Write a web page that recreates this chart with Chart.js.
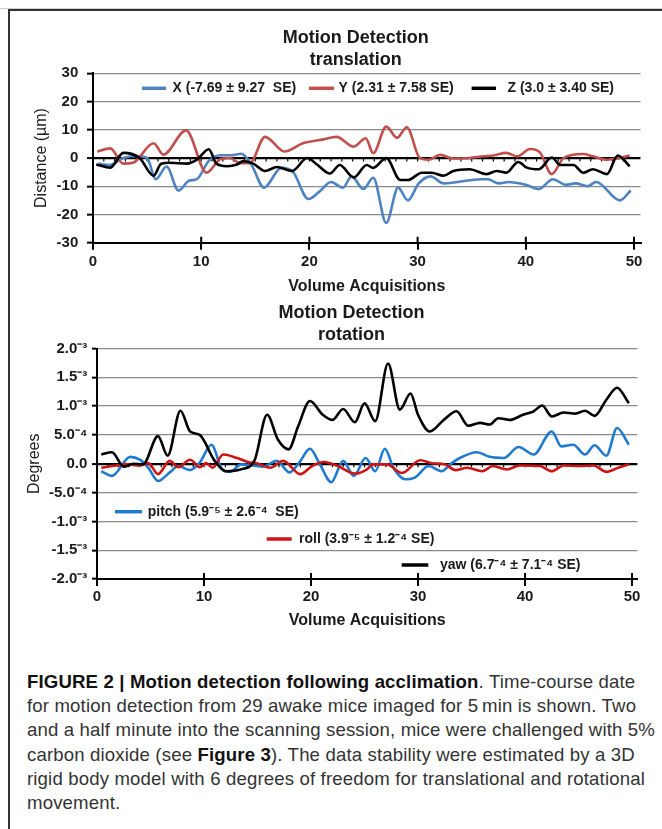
<!DOCTYPE html>
<html>
<head>
<meta charset="utf-8">
<script src="https://cdn.jsdelivr.net/npm/chart.js@4.4.1/dist/chart.umd.min.js"></script>
<style>
html,body{margin:0;padding:0;background:#fff;}
body{width:662px;height:829px;position:relative;overflow:hidden;font-family:"Liberation Sans",Arial,sans-serif;}
#topline{position:absolute;left:0;top:8px;width:662px;height:1px;background:#cfcfcf;}
#frame{position:absolute;left:8px;top:9px;width:660px;height:830px;border-top:2px solid #333;border-left:2px solid #333;}
#w1{position:absolute;left:10px;top:14px;width:652px;height:286px;}
#w2{position:absolute;left:10px;top:300px;width:652px;height:334px;}
#caption{position:absolute;left:27px;top:670px;font-size:18.6px;letter-spacing:0.15px;line-height:24.2px;color:#333;white-space:nowrap;}
#caption b{color:#111;}
</style>
</head>
<body>
<div id="topline"></div>
<div id="frame"></div>
<div id="w1"><canvas id="c1" width="652" height="286"></canvas></div>
<div id="w2"><canvas id="c2" width="652" height="334"></canvas></div>
<div id="caption"><b>FIGURE 2 | Motion detection following acclimation</b>. Time-course date<br>for motion detection from 29 awake mice imaged for 5&#8201;min is shown. Two<br>and a half minute into the scanning session, mice were challenged with 5%<br>carbon dioxide (see <b>Figure 3</b>). The data stability were estimated by a 3D<br>rigid body model with 6 degrees of freedom for translational and rotational<br>movement.</div>
<script>
// ---------- translation panel (µm) ----------
const xAcqX = [0.5,1.5,2.8,4,5,5.8,6.8,7.9,8.9,9.6,10.7,11.8,12.8,13.7,14.6,15.8,17.4,18.5,19.9,20.9,22,23.1,23.9,25,25.9,27.1,28.2,29.1,30.1,31.2,32.4,33.7,35.8,36.5,37.5,38.4,40,41.2,42.5,43.7,44.6,45.7,46.5,48.7,49.7];
const transX = [-2,-2.5,0,0.7,0,-7.5,-3,-11.5,-8,-7.5,-1,1,1,1.5,-2,-10.5,-3.5,-5,-14.5,-12,-8.5,-10.5,-6.5,-11,-7,-23,-10.5,-15,-9,-6.5,-9,-8.5,-7.5,-7.5,-9,-8.5,-9.5,-11,-7.5,-9.5,-9,-10,-8.5,-15,-11.5];
const xAcqY = [0.4,1.6,2.8,3.7,5.6,6.5,8.6,10.5,11.7,12.6,13.6,14.5,15.9,17.7,19.4,21.3,22.5,24.1,25.2,25.9,27.1,28.1,29,30.2,31,32.1,33.3,34.8,36.1,37,38.2,39.2,40.4,41.3,42.4,43.5,45.3,46.2,47.5,48.7,49.6];
const transY = [2.3,3.4,-2,-1.7,5.2,1.2,9.8,-5.2,-0.6,0,-1.8,-1.8,7.5,2.3,5.2,6.6,7.5,4,7,1.7,11.1,7.2,10.9,0,-0.6,1.1,-0.2,0,0.6,0.9,1.8,0.6,3.2,2,-5.7,0,1.4,0.6,-0.6,0,0.9];
const xAcqZ = [0.3,1.6,2.8,4.3,5.6,6.3,7.1,8.7,9.6,10.7,11.4,12.4,13.3,13.9,14.8,15.9,17,18.4,19.8,20.7,21.9,22.8,24.1,25.3,25.9,27.1,28.4,29.1,30.4,31.3,32.4,33.3,34.8,36.4,37.3,38.2,39.3,40.1,41.2,42.4,43.2,44.4,45.3,46.2,47.5,48.5,49.6];
const transZ = [-2.3,-3.4,1.8,0,-6.3,-2,-1.7,-2,-0.6,3.1,-2,-2.9,-2.3,-1.1,-2,-4.6,-3.2,-4.6,0,-2.3,-5.5,-2.5,-6.9,-2.5,-3.5,0,-7.8,-7.8,-5.2,-5.2,-6.3,-4.6,-4,-5.7,-4.6,-5.2,-1.4,-3.4,-4,0.2,-2.5,-2.5,-5.2,-4,-5.7,0.9,-2.9];
const transLabels = ['X (-7.69 \u00b1 9.27  SE)','Y (2.31 \u00b1 7.58 SE)','Z (3.0 \u00b1 3.40 SE)'];
const transYTicks = [-30,-20,-10,0,10,20,30];

// ---------- rotation panel (values in units of 10^-4 degrees) ----------
const xAcqPitch = [0.4,1.4,3.1,4,4.8,5.7,6.8,7.6,8.7,9.6,10.7,11.7,12.4,13.5,14.6,15.5,16.8,18,18.9,19.9,20.8,21.9,23,24,25.1,26,26.9,27.7,28.8,29.7,31,32.2,33,33.9,35.5,36.7,38,39.4,40.8,42.5,43.4,44.5,45.6,46.5,47.6,48.6,49.7];
const rotPitch = [-1.3,-2.1,1.2,0.7,-0.7,-3,-1.5,-0.4,-1.1,0.2,3.3,-1,-1.4,-0.1,-0.3,-0.5,0.5,-1.5,0.2,2.6,0,-3.2,0.5,-2.1,1,-1.3,2.6,-0.7,-2.7,-2.4,-0.4,-1.3,-0.1,1,2,1.2,1,2.9,1.6,5.6,3,3.3,1.6,3.2,1.4,6.2,3.3];
const xAcqRoll = [0.4,1.8,2.8,4,4.8,5.7,6.8,7.6,8.7,9.6,10.2,10.8,11.8,13.1,14.3,14.9,16.2,17.4,19,20.1,21.2,22.4,24.1,25.2,25.8,27.1,28.5,30.2,31.3,32.5,33.5,34.6,36,37,38.3,39.5,41.4,42.5,43.6,45.1,46.4,47.6,48.7,49.7];
const rotRoll = [-0.7,-0.3,-0.1,-0.3,0.1,-1.8,0.5,-0.6,0.7,-0.6,0.1,-0.7,1.6,1,0.2,0.1,-0.7,0.5,-1.8,-0.4,0.3,-0.3,-1.7,-1,-0.1,-0.1,-1.6,0.6,0.1,-0.1,-1.1,-0.7,-1.3,-0.4,-1,-0.3,-0.4,-1.3,-0.3,-0.4,-0.3,-1.4,-0.7,-0.1];
const xAcqYaw = [0.4,1.4,2.5,3.4,4.3,5.7,6.6,7.8,8.7,9.6,11,12.1,13.4,14.7,15.9,16.9,17.9,18.8,19.9,21.1,22,23,24.1,25,26,27.2,28.3,29.3,30,31.1,32.4,33.6,34.7,35.8,36.7,37.5,38.6,39.8,40.8,41.6,42.5,43.6,44.7,45.6,46.5,47.6,48.6,49.7];
const rotYaw = [1.6,2,-0.5,0,-0.1,4.8,1.4,9.2,5.6,5,0.5,-1.3,-1,0.5,8.5,4.2,2.5,6.5,10.9,8.5,7.6,9.5,7.2,10.5,7.4,17.4,9.4,12.2,8.5,5.6,7.6,9.1,6.6,7.1,6.8,7.9,7.6,8.5,9.1,10.1,8.2,8.9,8.7,9.2,8.3,11.1,13.2,10.5];
const rotLabels = ['pitch (5.9\u207b\u2075 \u00b1 2.6\u207b\u2074  SE)','roll (3.9\u207b\u2075 \u00b1 1.2\u207b\u2074 SE)','yaw (6.7\u207b\u2074 \u00b1 7.1\u207b\u2074 SE)'];
const rotYTicks = [-20,-15,-10,-5,0,5,10,15,20];
const rotYTickLabels = ['-2.0\u207b\u00b3','-1.5\u207b\u00b3','-1.0\u207b\u00b3','-5.0\u207b\u2074','0.0','5.0\u207b\u2074','1.0\u207b\u00b3','1.5\u207b\u00b3','2.0\u207b\u00b3'];

const xTicks = [0,10,20,30,40,50];
const xTitle = 'Volume Acquisitions';

const FONT = '"Liberation Sans", Arial, Helvetica, sans-serif';
Chart.defaults.font.family = FONT;
Chart.defaults.color = '#1a1a1a';
Chart.defaults.animation = false;

const pts = (xs, ys) => xs.map((x, i) => ({x: x, y: ys[i]}));

const figDecor = {
  id: 'figDecor',
  beforeDatasetsDraw(chart, args, o) {
    const {ctx, chartArea: a, scales: {x, y}} = chart;
    const y0 = y.getPixelForValue(0);
    ctx.save();
    ctx.strokeStyle = '#000';
    ctx.lineWidth = 1.2;
    ctx.beginPath();
    for (let v = 1; v < 50; v++) {
      const px = x.getPixelForValue(v);
      ctx.moveTo(px, y0 + 1); ctx.lineTo(px, y0 + 3.5);
    }
    ctx.stroke();
    ctx.lineWidth = 2;
    ctx.beginPath();
    xTicks.forEach(v => {
      const px = x.getPixelForValue(v);
      ctx.moveTo(px, a.bottom); ctx.lineTo(px, a.bottom - 6);
    });
    ctx.stroke();
    ctx.restore();
  },
  afterDraw(chart, args, o) {
    const ctx = chart.ctx;
    ctx.save();
    ctx.fillStyle = '#1a1a1a';
    ctx.textBaseline = 'middle';
    ctx.textAlign = 'center';
    ctx.font = 'bold 18px ' + FONT;
    o.title.lines.forEach((t, i) => ctx.fillText(t, o.title.x, o.title.y[i]));
    ctx.textAlign = 'left';
    ctx.font = 'bold 14px ' + FONT;
    chart.data.datasets.forEach((ds, i) => {
      const it = o.legend[i];
      ctx.strokeStyle = ds.borderColor;
      ctx.lineWidth = 3.5;
      ctx.beginPath();
      ctx.moveTo(it.x1, it.y); ctx.lineTo(it.x2, it.y);
      ctx.stroke();
      ctx.fillText(ds.label, it.tx, it.y);
    });
    ctx.restore();
  }
};

function xScale(maxV, pad) {
  return {
    type: 'linear', min: 0, max: maxV,
    afterBuildTicks: ax => { ax.ticks = xTicks.map(v => ({value: v})); },
    ticks: {font: {size: 15, weight: 'bold'}, padding: pad, maxRotation: 0, autoSkip: false, color: '#1a1a1a'},
    grid: {drawOnChartArea: false, drawTicks: true, tickLength: 7, color: '#000', lineWidth: 2},
    border: {display: true, color: '#000', width: 2},
    title: {display: true, text: xTitle, font: {size: 16, weight: 'bold'}, padding: {top: 3.4, bottom: 0}, color: '#1a1a1a'}
  };
}

function yGrid(tl) {
  return {
    drawTicks: true, tickLength: tl, tickColor: '#000', tickWidth: 2,
    color: c => c.tick && c.tick.value === 0 ? '#000' : '#8a8a8a',
    lineWidth: c => c.tick && c.tick.value === 0 ? 2.2 : 1.3
  };
}

const lineDs = (label, data, color, order) => ({
  label, data, borderColor: color, backgroundColor: color, borderWidth: 2.6,
  pointRadius: 0, cubicInterpolationMode: 'monotone', fill: false, order
});

new Chart(document.getElementById('c1'), {
  type: 'line',
  data: {
    datasets: [
      lineDs(transLabels[0], pts(xAcqX, transX), '#4f82c0', 2),
      lineDs(transLabels[1], pts(xAcqY, transY), '#c0504d', 1),
      lineDs(transLabels[2], pts(xAcqZ, transZ), '#000000', 0)
    ]
  },
  options: {
    responsive: false,
    layout: {padding: {left: 22.1, right: 21.5, top: 59.3, bottom: 3.7}},
    plugins: {
      legend: {display: false}, tooltip: {enabled: false}, title: {display: false},
      figDecor: {
        title: {lines: ['Motion Detection', 'translation'], x: 345.8, y: [24.3, 46]},
        legend: [
          {x1: 132, x2: 156, y: 74.3, tx: 162.5},
          {x1: 299, x2: 324, y: 74.3, tx: 328.6},
          {x1: 461.6, x2: 486, y: 74.3, tx: 497.5}
        ]
      }
    },
    scales: {
      x: xScale(50.6, 3),
      y: {
        min: -30, max: 30,
        afterBuildTicks: ax => { ax.ticks = transYTicks.map(v => ({value: v})); },
        afterFit: s => { s.width = 60.9; },
        ticks: {font: {size: 15, weight: 'bold'}, padding: 8.7, color: '#1a1a1a'},
        grid: yGrid(6),
        border: {display: true, color: '#000', width: 2},
        title: {display: true, text: 'Distance (\u00b5m)', font: {size: 16}, padding: {top: 0, bottom: 0}, color: '#1a1a1a'}
      }
    }
  },
  plugins: [figDecor]
});

new Chart(document.getElementById('c2'), {
  type: 'line',
  data: {
    datasets: [
      lineDs(rotLabels[0], pts(xAcqPitch, rotPitch), '#1f7bcf', 2),
      lineDs(rotLabels[1], pts(xAcqRoll, rotRoll), '#cc1515', 1),
      lineDs(rotLabels[2], pts(xAcqYaw, rotYaw), '#000000', 0)
    ]
  },
  options: {
    responsive: false,
    layout: {padding: {left: 15.4, right: 24.6, top: 48.5, bottom: 3.4}},
    plugins: {
      legend: {display: false}, tooltip: {enabled: false}, title: {display: false},
      figDecor: {
        title: {lines: ['Motion Detection', 'rotation'], x: 341.5, y: [13.3, 35]},
        legend: [
          {x1: 105, x2: 132, y: 211.7, tx: 137.7},
          {x1: 256.7, x2: 281.7, y: 239, tx: 289},
          {x1: 391.7, x2: 418.3, y: 265, tx: 430}
        ]
      }
    },
    scales: {
      x: xScale(50.5, 2),
      y: {
        min: -20, max: 20,
        afterBuildTicks: ax => { ax.ticks = rotYTicks.map(v => ({value: v})); },
        afterFit: s => { s.width = 71.6; },
        ticks: {font: {size: 15, weight: 'bold'}, padding: 4.7, color: '#1a1a1a',
                callback: v => rotYTickLabels[rotYTicks.indexOf(v)]},
        grid: yGrid(5),
        border: {display: true, color: '#000', width: 2},
        title: {display: true, text: 'Degrees', font: {size: 16}, padding: {top: 0, bottom: 0}, color: '#1a1a1a'}
      }
    }
  },
  plugins: [figDecor]
});
</script>
</body>
</html>
